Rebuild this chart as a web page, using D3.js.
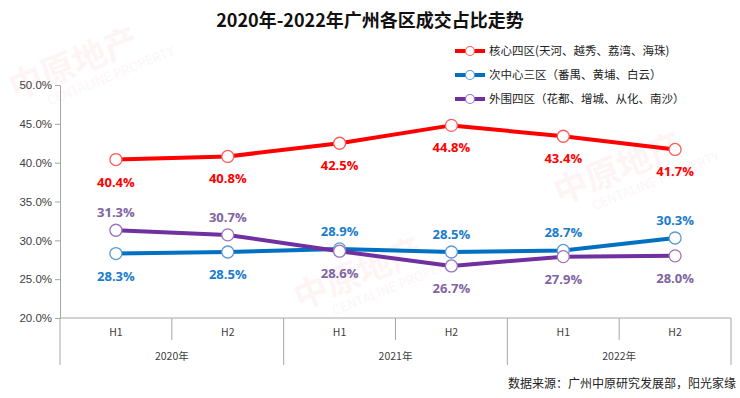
<!DOCTYPE html>
<html>
<head>
<meta charset="utf-8">
<script src="https://cdn.jsdelivr.net/npm/d3@7"></script>
<style>
  body { margin: 0; background: #fff; }
  svg { display: block; font-family: "Noto Sans CJK SC", "Noto Sans", sans-serif; }
</style>
</head>
<body>
<svg id="chart"></svg>
<script>
// data
const halves = ["H1", "H2", "H1", "H2", "H1", "H2"];
const years = ["2020年", "2021年", "2022年"];
const yTicks = [0.20, 0.25, 0.30, 0.35, 0.40, 0.45, 0.50];

const coreFour = [40.4, 40.8, 42.5, 44.8, 43.4, 41.7];
const subCenterThree = [28.3, 28.5, 28.9, 28.5, 28.7, 30.3];
const outerFour = [31.3, 30.7, 28.6, 26.7, 27.9, 28.0];

// label above (-1) or below (+1) each point
const corePos = [1, 1, 1, 1, 1, 1];
const subPos = [1, 1, -1, -1, -1, -1];
const outerPos = [-1, -1, 1, 1, 1, 1];

const series = [
  {name: "核心四区(天河、越秀、荔湾、海珠)", values: coreFour, pos: corePos, color: "#ff0000", marker: "#ff5b5b", label: "#ff0000"},
  {name: "次中心三区（番禺、黄埔、白云）", values: subCenterThree, pos: subPos, color: "#0070c0", marker: "#5b9bd5", label: "#1a7ccc"},
  {name: "外围四区（花都、增城、从化、南沙）", values: outerFour, pos: outerPos, color: "#7030a0", marker: "#9a72c0", label: "#8064a2"}
];

const width = 740, height = 398;
const margin = {left: 60, right: 9, top: 85, bottom: 80};

const svg = d3.select("#chart").attr("width", width).attr("height", height);

// faint watermark
const wm = [[15, 100], [300, 310], [560, 205]];
wm.forEach(w => {
  const g = svg.append("g").attr("transform", `translate(${w[0]},${w[1]}) rotate(-22)`)
    .attr("fill", "#e03030").attr("opacity", 0.045);
  g.append("text").attr("font-size", 34).attr("font-weight", "bold").text("中原地产");
  g.append("text").attr("y", 18).attr("x", 30).attr("font-size", 13).text("CENTALINE PROPERTY");
});

const x = d3.scaleBand()
  .domain(d3.range(halves.length))
  .range([margin.left, width - margin.right]);

const y = d3.scaleLinear()
  .domain([0.20, 0.50])
  .range([height - margin.bottom, margin.top]);

// title
svg.append("text")
  .attr("x", width / 2).attr("y", 27)
  .attr("text-anchor", "middle")
  .attr("font-size", 18).attr("font-weight", "bold").attr("fill", "#111")
  .text("2020年-2022年广州各区成交占比走势");

// y axis
const yAxis = svg.append("g")
  .attr("transform", `translate(${margin.left},0)`)
  .call(d3.axisLeft(y).tickValues(yTicks).tickFormat(d3.format(".1%")).tickSize(5).tickSizeOuter(0));
yAxis.selectAll("path, line").attr("stroke", "#a6a6a6");
yAxis.selectAll("text").attr("font-size", 11.5).attr("fill", "#404040").attr("font-family", "Liberation Sans, sans-serif");

// x axis baseline
const y0 = y(0.20);
svg.append("line")
  .attr("x1", margin.left).attr("x2", width - margin.right)
  .attr("y1", y0).attr("y2", y0)
  .attr("stroke", "#a6a6a6");

// category dividers
d3.range(halves.length + 1).forEach(i => {
  const xx = i < halves.length ? x(i) : x(halves.length - 1) + x.bandwidth();
  svg.append("line")
    .attr("x1", xx).attr("x2", xx)
    .attr("y1", y0).attr("y2", i % 2 === 0 ? y0 + 47 : y0 + 22)
    .attr("stroke", "#a6a6a6");
});

svg.append("g").selectAll("text")
  .data(halves).join("text")
  .attr("x", (d, i) => x(i) + x.bandwidth() / 2)
  .attr("y", y0 + 18)
  .attr("text-anchor", "middle")
  .attr("font-size", 10.5).attr("fill", "#404040")
  .text(d => d);

svg.append("g").selectAll("text")
  .data(years).join("text")
  .attr("x", (d, i) => x(i * 2) + x.bandwidth())
  .attr("y", y0 + 42)
  .attr("text-anchor", "middle")
  .attr("font-size", 10.5).attr("fill", "#404040")
  .text(d => d);

// lines
const line = d3.line()
  .x((d, i) => x(i) + x.bandwidth() / 2)
  .y(d => y(d / 100));

series.forEach(s => {
  svg.append("path")
    .datum(s.values)
    .attr("fill", "none")
    .attr("stroke", s.color)
    .attr("stroke-width", 4)
    .attr("stroke-linejoin", "round")
    .attr("d", line);
});

series.forEach(s => {
  svg.append("g").selectAll("circle")
    .data(s.values).join("circle")
    .attr("cx", (d, i) => x(i) + x.bandwidth() / 2)
    .attr("cy", d => y(d / 100))
    .attr("r", 6)
    .attr("fill", "#fff")
    .attr("stroke", s.marker)
    .attr("stroke-width", 1.3);

  svg.append("g").selectAll("text")
    .data(s.values).join("text")
    .attr("x", (d, i) => x(i) + x.bandwidth() / 2)
    .attr("y", (d, i) => y(d / 100) + (s.pos[i] > 0 ? 27 : -13))
    .attr("text-anchor", "middle")
    .attr("font-size", 13).attr("font-weight", "bold")
    .attr("font-family", "Open Sans, sans-serif")
    .attr("fill", s.label)
    .text(d => d.toFixed(1) + "%");
});

// legend
const legend = svg.append("g").attr("transform", "translate(455,0)");
series.forEach((s, i) => {
  const ly = 51 + i * 24;
  legend.append("line")
    .attr("x1", 0).attr("x2", 30).attr("y1", ly).attr("y2", ly)
    .attr("stroke", s.color).attr("stroke-width", 4);
  legend.append("circle")
    .attr("cx", 15).attr("cy", ly).attr("r", 4.5)
    .attr("fill", "#fff").attr("stroke", s.marker).attr("stroke-width", 1.2);
  legend.append("text")
    .attr("x", 34).attr("y", ly + 4)
    .attr("font-size", 11.5).attr("fill", "#222")
    .text(s.name);
});

// source
svg.append("text")
  .attr("x", 736).attr("y", 388)
  .attr("text-anchor", "end")
  .attr("font-size", 12).attr("fill", "#222")
  .text("数据来源：广州中原研究发展部，阳光家缘");
</script>
</body>
</html>
